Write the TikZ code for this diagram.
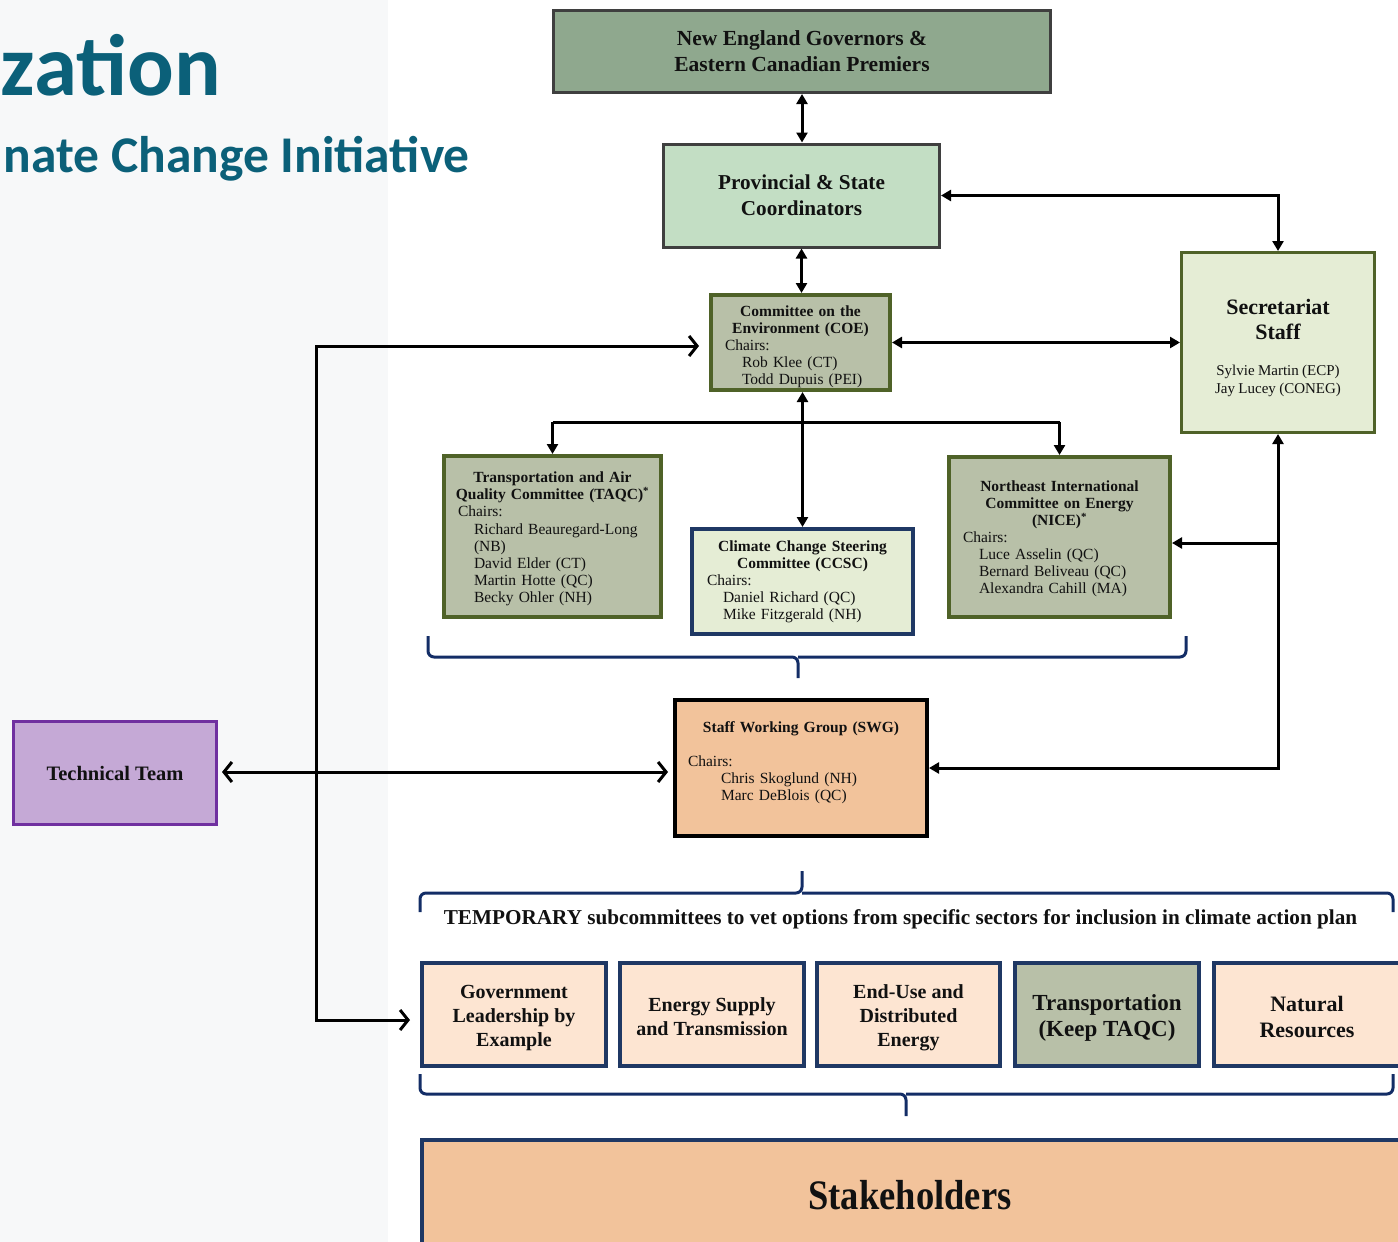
\documentclass[tikz,border=0pt]{standalone}
\usepackage{fontspec}
\setmainfont{Liberation Serif}
\newfontfamily\titlefont{Carlito}
\usetikzlibrary{arrows.meta,calc}
\definecolor{teal1}{HTML}{0B6079}
\definecolor{bggray}{HTML}{F7F8F9}
\definecolor{govfill}{HTML}{8FA88E}
\definecolor{provfill}{HTML}{C3DEC4}
\definecolor{olivefill}{HTML}{B8C0A8}
\definecolor{olive}{HTML}{4F6228}
\definecolor{lightfill}{HTML}{E5EDD5}
\definecolor{navy}{HTML}{1F3864}
\definecolor{bracenavy}{HTML}{132D66}
\definecolor{peach}{HTML}{F2C39B}
\definecolor{lpeach}{HTML}{FDE5D2}
\definecolor{lav}{HTML}{C5A9D6}
\definecolor{purp}{HTML}{7030A0}
\definecolor{darkgray}{HTML}{3F3F3F}
\definecolor{txt}{HTML}{111111}
\newcommand\ctrline[1]{\makebox[\linewidth][c]{#1}\\}
\begin{document}
\begin{tikzpicture}[x=1pt,y=-1pt,
  box/.style={draw, rectangle, inner sep=0pt, align=center, text=txt},
  chairbox/.style={draw, rectangle, inner sep=0pt, line width=4pt, draw=olive, fill=olivefill},
  chairtext/.style={inner sep=0pt, align=left, text=txt, font=\fontsize{15.5}{17}\selectfont},
  subbox/.style={box, line width=4pt, draw=navy, fill=lpeach, minimum width=184, minimum height=103},
  subtext/.style={inner sep=0pt, align=center, text=txt, font=\bfseries\fontsize{20}{24}\selectfont},
  conn/.style={draw=black, line width=3pt},
  brace/.style={draw=bracenavy, line width=3pt, rounded corners=6pt},
  tri/.tip={Triangle[length=10pt,width=11pt]},
  barb/.tip={Straight Barb[length=8pt,width=20pt,line width=3pt]}
]
\useasboundingbox (0,0) rectangle (1398,1242);
\fill[bggray] (0,0) rectangle (388,1242);

% titles
\node[anchor=base east, inner sep=0, text=teal1, font=\titlefont\bfseries\fontsize{87}{95}\selectfont] (ttl) at (221,95) {zation};
\node[anchor=base east, inner sep=0, text=teal1, font=\titlefont\bfseries\fontsize{51.5}{55}\selectfont] (sub) at (470,172) {nate Change Initiative};

% top boxes
\node[box, line width=3pt, draw=darkgray, fill=govfill, minimum width=497, minimum height=82,
  font=\bfseries\fontsize{21.5}{26}\selectfont] (gov) at (802,51.5) {New England Governors \&\\Eastern Canadian Premiers};
\node[box, line width=3pt, draw=darkgray, fill=provfill, minimum width=276, minimum height=103,
  font=\bfseries\fontsize{21.2}{26}\selectfont] (prov) at (801.5,195.5) {Provincial \& State\\Coordinators};

% COE
\node[chairbox, minimum width=179, minimum height=95] (coe) at (800.5,342.5) {};
\node[chairtext, text width=151pt] (coeT) at ($(coe.center)+(0,4)$)
  {\ctrline{\bfseries Committee on the}\ctrline{\bfseries Environment (COE)}
   Chairs:\\ \hspace*{17pt}Rob Klee (CT)\\ \hspace*{17pt}Todd Dupuis (PEI)};

% Secretariat
\node[box, line width=3pt, draw=olive, fill=lightfill, minimum width=193, minimum height=180] (sec) at (1278,342.5) {};
\node[inner sep=0, align=center, text=txt, text width=170pt] (secT) at ($(sec.center)+(0,5)$)
  {{\bfseries\fontsize{22}{25}\selectfont Secretariat\\ Staff\par}\vspace{18pt}
   {\fontsize{15}{18}\selectfont Sylvie Martin (ECP)\\ Jay Lucey (CONEG)\par}};

% TAQC
\node[chairbox, minimum width=217, minimum height=161] (taqc) at (552.5,536.5) {};
\node[chairtext, text width=189pt, font=\fontsize{15.5}{17.15}\selectfont] (taqcT) at ($(taqc.center)+(0,2.5)$)
  {\ctrline{\bfseries Transportation and Air}\ctrline{\bfseries Quality Committee (TAQC)\textsuperscript{*}}
   Chairs:\\ \hspace*{16pt}Richard Beauregard-Long\\ \hspace*{16pt}(NB)\\ \hspace*{16pt}David Elder (CT)\\
   \hspace*{16pt}Martin Hotte (QC)\\ \hspace*{16pt}Becky Ohler (NH)};

% CCSC
\node[chairbox, draw=navy, fill=lightfill, minimum width=221, minimum height=105] (ccsc) at (802.5,581.5) {};
\node[chairtext, text width=191pt] (ccscT) at (ccsc.center)
  {\ctrline{\bfseries Climate Change Steering}\ctrline{\bfseries Committee (CCSC)}
   Chairs:\\ \hspace*{16pt}Daniel Richard (QC)\\ \hspace*{16pt}Mike Fitzgerald (NH)};

% NICE
\node[chairbox, minimum width=221, minimum height=160] (nice) at (1059.5,537) {};
\node[chairtext, text width=193pt] (niceT) at ($(nice.center)+(0,2)$)
  {\ctrline{\bfseries Northeast International}\ctrline{\bfseries Committee on Energy}\ctrline{\bfseries (NICE)\textsuperscript{*}}
   Chairs:\\ \hspace*{16pt}Luce Asselin (QC)\\ \hspace*{16pt}Bernard Beliveau (QC)\\ \hspace*{16pt}Alexandra Cahill (MA)};

% SWG
\node[chairbox, draw=black, fill=peach, minimum width=252, minimum height=136] (swg) at (801,768) {};
\node[chairtext, text width=226pt] (swgT) at ($(swg.center)+(0,-5)$)
  {\ctrline{\bfseries Staff Working Group (SWG)}\vspace{17pt}
   Chairs:\\ \hspace*{33pt}Chris Skoglund (NH)\\ \hspace*{33pt}Marc DeBlois (QC)};

% Technical team
\node[box, line width=3pt, draw=purp, fill=lav, minimum width=203, minimum height=103,
  font=\bfseries\fontsize{20.5}{22}\selectfont] (tech) at (115,773) {Technical Team};

% temporary subcommittees
\node[inner sep=0, text=txt, font=\bfseries\fontsize{21.2}{22}\selectfont] (temp) at (900.5,919)
  {TEMPORARY subcommittees to vet options from specific sectors for inclusion in climate action plan};

\node[subbox] (gl) at (514,1014.5) {};
\node[subtext] (glT) at ($(gl.center)+(0,3)$) {Government\\Leadership by\\Example};
\node[subbox] (es) at (712,1014.5) {};
\node[subtext] (esT) at ($(es.center)+(0,2)$) {Energy Supply\\and Transmission};
\node[subbox, minimum width=183] (eu) at (908.5,1014.5) {};
\node[subtext] (euT) at ($(eu.center)+(0,3)$) {End-Use and\\Distributed\\Energy};
\node[subbox, fill=olivefill] (tr) at (1107,1014.5) {};
\node[subtext, font=\bfseries\fontsize{23}{26}\selectfont] (trT) at ($(tr.center)+(0,3)$) {Transportation\\(Keep TAQC)};
\node[subbox, minimum width=192] (nr) at (1310,1014.5) {};
\node[subtext, font=\bfseries\fontsize{22}{26}\selectfont] (nrT) at ($(nr.center)+(-3,2)$) {Natural\\Resources};

\node[box, line width=4pt, draw=navy, fill=peach, minimum width=988, minimum height=122] (stake) at (916,1201) {};
\node[inner sep=0, text=txt, font=\bfseries\fontsize{42}{42}\selectfont] (staketext) at (910,1195) {\scalebox{0.87}[1]{Stakeholders}};

% braces
\draw[brace] (428,636) -- (428,657) -- (798,657) -- (798,678);
\draw[brace] (1186,636) -- (1186,657) -- (798,657);
\draw[brace] (420,912) -- (420,893) -- (802,893) -- (802,871);
\draw[brace] (1393,912) -- (1393,893) -- (802,893);
\draw[brace] (420,1074) -- (420,1094) -- (906,1094) -- (906,1116);
\draw[brace] (1393,1074) -- (1393,1094) -- (906,1094);

% connectors
\draw[conn,{tri}-{tri}] (gov.south) -- (prov.north -| gov.south);
\draw[conn,{tri}-{tri}] (prov.south) -- (coe.north -| prov.south);
\draw[conn,{tri}-{tri}] (prov.east) -- (prov.east -| sec.north) -- (sec.north);
\draw[conn,{tri}-{tri}] (coe.east) -- (coe.east -| sec.west);

\coordinate (midbar) at (802,422);
\draw[conn] (midbar -| taqc.north) -- (midbar -| nice.north);
\draw[conn,-{tri}] (midbar -| taqc.north) -- (taqc.north);
\draw[conn,-{tri}] (midbar -| nice.north) -- (nice.north);
\draw[conn,{tri}-{tri}] (coe.south -| ccsc.north) -- (ccsc.north);

\coordinate (swgin) at (1000,768);
\coordinate (nicein) at (1000,543);
\draw[conn,{tri}-{tri}] (sec.south) -- (sec.south |- swgin) -- (swgin -| swg.east);
\draw[conn,-{tri}] (sec.south |- nicein) -- (nicein -| nice.east);

\coordinate (looptop) at (316,346);
\coordinate (loopbot) at (316,1020);
\draw[conn,{barb}-{barb}] ($(coe.west |- looptop)+(-10,0)$) -- (looptop) -- (loopbot) -- ($(gl.west |- loopbot)+(-10,0)$);
\draw[conn,{barb}-{barb}] ($(tech.east)+(4,-1)$) -- ($(swg.west |- tech.east)+(-5,-1)$);
\end{tikzpicture}
\end{document}
